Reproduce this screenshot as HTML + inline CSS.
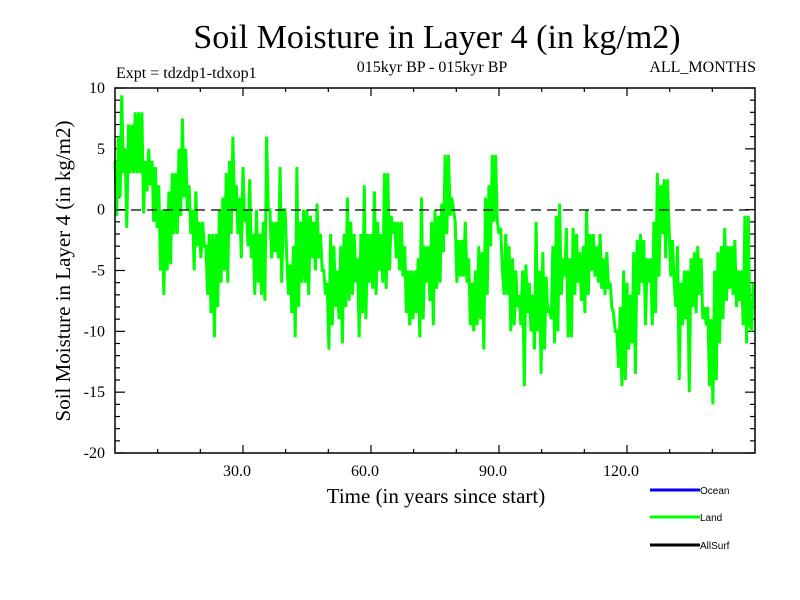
<!DOCTYPE html>
<html><head><meta charset="utf-8"><style>
body{margin:0;background:#fff;}
svg{display:block;}
text{font-family:"Liberation Serif",serif;fill:#000;}
</style></head><body>
<svg id="chart" width="800" height="600">
<rect x="0" y="0" width="800" height="600" fill="#fff"/>
<text x="437" y="48" font-size="34" text-anchor="middle">Soil Moisture in Layer 4 (in kg/m2)</text>
<text x="432" y="72" font-size="16" text-anchor="middle">015kyr BP - 015kyr BP</text>
<text x="116" y="78" font-size="16">Expt = tdzdp1-tdxop1</text>
<text x="756" y="72" font-size="16" text-anchor="end">ALL_MONTHS</text>
<text x="0" y="0" font-size="21" text-anchor="middle" transform="translate(70,271) rotate(-90)">Soil Moisture in Layer 4 (in kg/m2)</text>
<text x="436" y="503" font-size="21" text-anchor="middle">Time (in years since start)</text>
<g id="ticks"></g>
<g id="series"></g>
<line x1="115" y1="210" x2="755" y2="210" stroke="#000" stroke-width="1.2" stroke-dasharray="10,6"/>
<rect x="115" y="88" width="640" height="365" fill="none" stroke="#000" stroke-width="1.5"/>
<g>
<g><line x1="650" y1="490" x2="700" y2="490" stroke="#0000ff" stroke-width="3"/><text x="700" y="494" font-size="10" style="font-family:'Liberation Sans',sans-serif">Ocean</text></g>
<g><line x1="650" y1="517" x2="700" y2="517" stroke="#00ff00" stroke-width="3"/><text x="700" y="521" font-size="10" style="font-family:'Liberation Sans',sans-serif">Land</text></g>
<g><line x1="650" y1="545" x2="700" y2="545" stroke="#000" stroke-width="3"/><text x="700" y="549" font-size="10" style="font-family:'Liberation Sans',sans-serif">AllSurf</text></g>
</g>
</svg>
<script>
const yTickValues=[10,5,0,-5,-10,-15,-20];
const xTickValues=[30,60,90,120];
const xTickLabels=["30.0","60.0","90.0","120.0"];
const highs=[4,6,9.4,5,7,7,8,8,8,4,5,4,3.5,2,0,0,1.5,3,3,5,7.5,5,2,0,1.5,-1,-1,-3,-2,-2,-2,0,1,3,4,6,2,1,3.5,0,2.5,-2,0,-2,-1,6,
0,-1,-1,3.5,0,-4,-4.5,-3,3.5,-1,0,0,-0.5,-1,0.5,-2,-5,-6,-2,-3,-5,-3,-2,1,-1,-2,-4,-2,2,-2,-2,1.5,-1,-2,3,3,-0.5,-1,-1,-1,-3,-5,-5,-5,-4,1,-3,-3,-1,
0,-0.5,0.5,4.5,4.5,1,-1,-2.5,-2.5,-1,-4,-6,-5,-3,-3.5,1,2,4.5,4.5,-2,-5,-2,-3,-4,-5,-7,-5,-4.5,-6,-7,-1,-5,-3.5,-5.5,-8,-3,-0.5,0.5,-4,-1.5,-4,-1.5,-2,-3.5,-3,0,-2,-2,-3,
-2,-4,-3.5,-6,-8.5,-10,-8,-5,-6,-7,-3.5,-2.5,-2,-2.5,-4,-4,-1,3,2,2.5,2.5,-5.5,-6,-3,-6,-5,-5,-4,-3.5,-3,-4,-8,-8,-9,-5,-3.5,-3,-1.5,-3,-3,-2.5,-5,-5,-0.5,-0.5,-10];
const lows=[-0.5,1,3,-1.5,3,3,3,3,-0.3,1.5,2,-1,-1.5,-5,-7,-5,-4.5,-2,-2,-0.5,1,0,-2,-5,-3,-4,-3,-7,-8.5,-10.5,-8,-6,-5,-6,-2,0,-2,-4,-1,-3,-4,-7,-6,-7,-7.5,0,
-4,-3.5,-4,-6,0,-7,-8.5,-10.5,-8,-6,-6,-7,-4,-5,-4,-5,-7,-11.5,-9.5,-8,-9,-11,-8,-7.5,-7,-6,-10.5,-8.5,-9,-6,-6.5,-7,-5,-6,-6.5,-5,-2,-4,-5,-5.5,-8.5,-9.5,-9,-8.5,-10.5,-9,-6,-7.5,-9.5,-6.5,
-6,-3.5,-2,-0.5,0,-6,-5.5,-5.5,-6,-9.5,-10,-9.5,-9,-11.5,-7,-3,-1,-1,-1.5,-7,-7,-10,-9.5,-8,-9.5,-14.5,-8.5,-10,-11.5,-10,-13.5,-11.5,-8.5,-9,-11,-10,-7,-5.5,-10.5,-10.5,-7,-6,-7.5,-8.5,-7,-5,-5.5,-6,-6.5,
-7,-6.5,-8,-10,-13,-14.5,-14,-11.5,-11,-13.5,-7,-6,-9.5,-6,-9.5,-8.5,-5.5,-2,-4,-1.5,-2.5,-8,-14,-9.5,-9,-15,-8,-8.5,-7,-9,-9.5,-14.5,-16,-14,-11,-9,-7.5,-6.5,-7,-8,-7.5,-9.5,-11,-9.5,-6,-12];
const X0=115,X1=755,Y0=453,Y1=88,XMAX=150,YMIN=-20,YMAX=10;
function xs(t){return X0+(t/XMAX)*(X1-X0);}
function ys(v){return Y0-(v-YMIN)/(YMAX-YMIN)*(Y0-Y1);}
const NS="http://www.w3.org/2000/svg";
const ticks=document.getElementById('ticks');
function ln(x1,y1,x2,y2,nm){const l=document.createElementNS(NS,'line');
l.setAttribute('x1',x1);l.setAttribute('y1',y1);l.setAttribute('x2',x2);l.setAttribute('y2',y2);
l.setAttribute('stroke','#000');l.setAttribute('stroke-width','1.2');


ticks.appendChild(l);}
for(let v=YMIN;v<=YMAX;v++){const major=(v%5===0);const w=major?10:5;const y=ys(v);
ln(X0,y,X0+w,y,'y-tick');ln(X1-w,y,X1,y,'y-tick-right');}
yTickValues.forEach(v=>{const t=document.createElementNS(NS,'text');
t.setAttribute('x',105);t.setAttribute('y',ys(v)+5);t.setAttribute('text-anchor','end');t.setAttribute('font-size','16');
t.textContent=String(v);


ticks.appendChild(t);});
for(let v=10;v<XMAX;v+=10){const major=(v%30===0);const w=major?8:4;const x=xs(v);
ln(x,Y1,x,Y1+w,'x-tick-top');ln(x,Y0,x,Y0-w,'x-tick');}
xTickValues.forEach((v,i)=>{const t=document.createElementNS(NS,'text');
t.setAttribute('x',xs(v)-6);t.setAttribute('y',476);t.setAttribute('text-anchor','middle');t.setAttribute('font-size','16');
t.textContent=xTickLabels[i];


ticks.appendChild(t);});
const n=highs.length;const step=XMAX/n;
let d='';
for(let i=0;i<n;i++){const t=i*step;
d+=(i===0?'M':'L')+xs(t).toFixed(1)+','+ys(highs[i]).toFixed(1)+' ';
d+='L'+xs(t+step*0.5).toFixed(1)+','+ys(lows[i]).toFixed(1)+' ';}
const p=document.createElementNS(NS,'path');
p.setAttribute('d',d);p.setAttribute('fill','none');p.setAttribute('stroke','#00ff00');p.setAttribute('stroke-width','3');


document.getElementById('series').appendChild(p);
</script>
</body></html>
